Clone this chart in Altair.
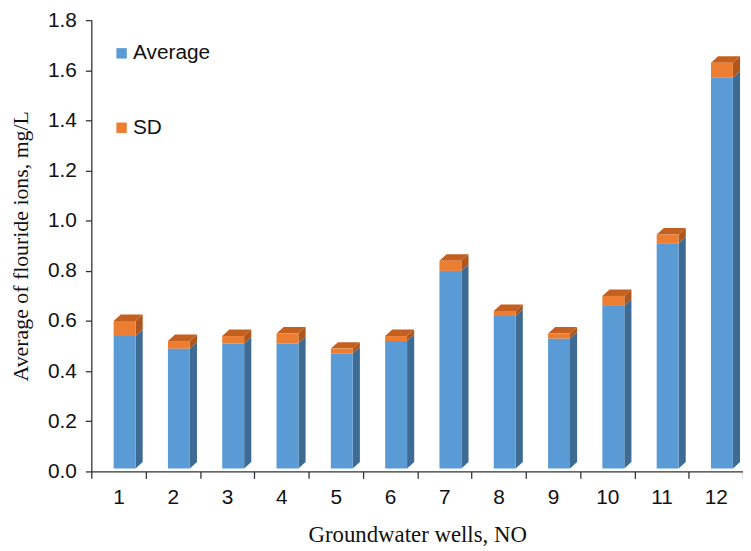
import altair as alt
import pandas as pd

# ---- data ----
wells = list(range(1, 13))
average = [0.54, 0.49, 0.51, 0.51, 0.47, 0.52, 0.80, 0.62, 0.53, 0.66, 0.91, 1.57]
sd = [0.06, 0.03, 0.03, 0.04, 0.02, 0.02, 0.04, 0.02, 0.02, 0.04, 0.035, 0.06]
series = ["Average", "SD"]
y_ticks = [0.0, 0.2, 0.4, 0.6, 0.8, 1.0, 1.2, 1.4, 1.6, 1.8]

# ---- styling / layout constants ----
front_colors = ["#5B9BD5", "#ED7D31"]
side_blue = "#3E6B94"
side_orange = "#AE561C"
top_orange = "#C4601F"

W, H = 657, 455
YMAX = 1.8
ux = W / 12.0          # px per well on x
uy = H / YMAX          # px per unit on y
f_left = -4.9 / ux     # front face left offset from well centre
f_right = 17.2 / ux    # front face right offset
dx = 7.2 / ux          # 3-D depth, x
dy = 6.5 / uy          # 3-D depth, y
base = 3.0 / uy        # floor lift of the front face

front_rows, side_a, side_s, top_rows = [], [], [], []
for w, a, s in zip(wells, average, sd):
    x0, x1 = w + f_left, w + f_right
    t = a + s
    front_rows.append({"x": x0, "x2": x1, "y": base, "y2": a, "series": "Average"})
    front_rows.append({"x": x0, "x2": x1, "y": a, "y2": t, "series": "SD"})
    side_a += [{"x": x1, "y": base, "y2": a, "k": w},
               {"x": x1 + dx, "y": base + dy, "y2": a + dy, "k": w}]
    side_s += [{"x": x1, "y": a, "y2": t, "k": w},
               {"x": x1 + dx, "y": a + dy, "y2": t + dy, "k": w}]
    top_rows += [{"x": x0, "y": t, "y2": t, "k": w},
                 {"x": x0 + dx, "y": t, "y2": t + dy, "k": w},
                 {"x": x1, "y": t, "y2": t + dy, "k": w},
                 {"x": x1 + dx, "y": t + dy, "y2": t + dy, "k": w}]

x_vals = [k / 2 for k in range(1, 26)]

x_enc = alt.X(
    "x:Q",
    scale=alt.Scale(domain=[0.5, 12.5], nice=False, zero=False),
    axis=alt.Axis(
        values=x_vals,
        labelExpr="datum.value % 1 == 0 ? format(datum.value, 'd') : ''",
        tickOpacity={"condition": {"test": "datum.value % 1 == 0", "value": 0}, "value": 1},
        grid=False,
        tickSize=7,
        labelPadding=8,
        labelFontSize=21,
        labelFont="Liberation Sans",
        labelColor="#111111",
        title="Groundwater wells, NO",
        titleFont="Liberation Serif",
        titleFontSize=23,
        titleFontWeight="normal",
        titleColor="#111111",
        titlePadding=17,
        labelFlush=False,
        labelOverlap=False,
    ),
)
y_enc = alt.Y(
    "y:Q",
    scale=alt.Scale(domain=[0, YMAX], nice=False),
    axis=alt.Axis(
        values=y_ticks,
        format=".1f",
        grid=False,
        tickSize=6,
        labelPadding=9,
        labelFontSize=21,
        labelFont="Liberation Sans",
        labelColor="#111111",
        title="Average of flouride ions, mg/L",
        titleFont="Liberation Serif",
        titleFontSize=22,
        titleFontWeight="normal",
        titleColor="#111111",
        titlePadding=15,
        labelFlush=False,
    ),
)

side_a_layer = alt.Chart(pd.DataFrame(side_a)).mark_area(color=side_blue).encode(
    x=x_enc, y=y_enc, y2="y2:Q", detail="k:N")
side_s_layer = alt.Chart(pd.DataFrame(side_s)).mark_area(color=side_orange).encode(
    x=x_enc, y=y_enc, y2="y2:Q", detail="k:N")
top_layer = alt.Chart(pd.DataFrame(top_rows)).mark_area(color=top_orange).encode(
    x=x_enc, y=y_enc, y2="y2:Q", detail="k:N")
front_layer = alt.Chart(pd.DataFrame(front_rows)).mark_rect().encode(
    x=x_enc, x2="x2:Q", y=y_enc, y2="y2:Q",
    color=alt.Color(
        "series:N",
        scale=alt.Scale(domain=series, range=front_colors),
        legend=alt.Legend(
            title=None, orient="none", legendX=20, legendY=23,
            symbolType="square", symbolSize=110, symbolStrokeWidth=0,
            labelFontSize=21, labelFont="Liberation Sans", labelColor="#111111",
            labelOffset=1, rowPadding=53, padding=0,
        ),
    ),
)

chart = alt.layer(side_a_layer, side_s_layer, top_layer, front_layer).properties(
    width=W, height=H,
    padding={"left": 84, "top": 10, "right": 0, "bottom": 78},
    autosize="none",
).configure_view(stroke=None).configure_axis(
    domainColor="#333333", tickColor="#333333", domainWidth=1.3, tickWidth=1.3
)

chart.save("out.html", embed_options={"renderer": "svg", "actions": False})
